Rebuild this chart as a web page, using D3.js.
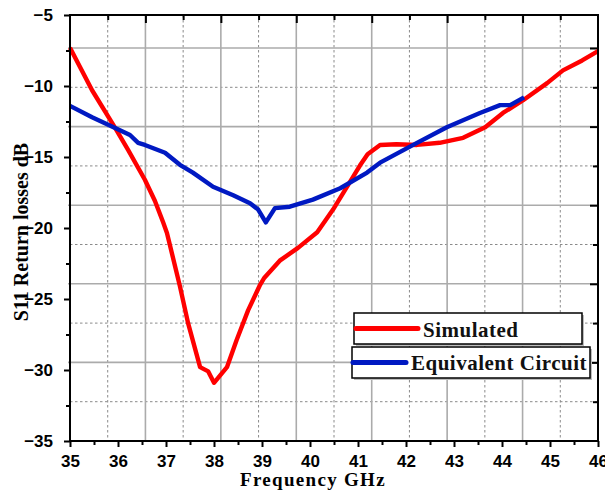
<!DOCTYPE html>
<html><head><meta charset="utf-8">
<script src="https://cdn.jsdelivr.net/npm/d3@7/dist/d3.min.js"></script>
<style>
body{margin:0;background:#fff;}
svg{display:block;}
.tick text{font-family:"Liberation Sans",Arial,sans-serif;font-weight:bold;font-size:17px;fill:#000;}
</style></head>
<body>
<script>
// ---- data ----
const simFreq = [35, 35.46, 35.94, 36.21, 36.56, 36.77, 36.94, 37.02, 37.29, 37.46, 37.71, 37.88, 38.0, 38.27, 38.47, 38.71, 38.96, 39.05, 39.37, 39.75, 40.15, 40.48, 40.77, 41.04, 41.2, 41.46, 41.8, 42.23, 42.7, 43.19, 43.65, 44.02, 44.44, 44.94, 45.27, 45.67, 46.0];
const simVal  = [-7.3, -10.3, -12.95, -14.5, -16.6, -18.1, -19.6, -20.35, -24.1, -26.7, -29.8, -30.1, -30.9, -29.8, -27.9, -25.8, -24.0, -23.5, -22.3, -21.4, -20.3, -18.7, -17.1, -15.6, -14.8, -14.15, -14.1, -14.15, -14.0, -13.65, -12.9, -11.9, -11.0, -9.8, -8.9, -8.2, -7.55];
const eqFreq = [35, 35.46, 35.94, 36.25, 36.42, 36.56, 36.98, 37.29, 37.56, 37.98, 38.4, 38.75, 38.92, 39.08, 39.27, 39.58, 40.06, 40.63, 41.19, 41.46, 42.15, 42.85, 43.54, 43.96, 44.17, 44.46];
const eqVal  = [-11.4, -12.2, -12.95, -13.45, -14.0, -14.15, -14.7, -15.55, -16.1, -17.1, -17.7, -18.25, -18.7, -19.6, -18.6, -18.5, -18.0, -17.2, -16.1, -15.4, -14.15, -12.9, -11.9, -11.35, -11.35, -10.8];
const xTicks = [35, 36, 37, 38, 39, 40, 41, 42, 43, 44, 45, 46];
const yTicks = [-5, -10, -15, -20, -25, -30, -35];
const seriesNames = ["Simulated", "Equivalent Circuit"];
const seriesColors = ["#ff0000", "#0019c2"];
const xTitle = "Frequency GHz";
const yTitle = "S11 Return losses dB";

// ---- layout ----
const W = 605, H = 491;
const L = 70, R = 598, T = 15, B = 441;
const svg = d3.select("body").append("svg").attr("width", W).attr("height", H);

const x = d3.scaleLinear().domain([35, 46]).range([L, R]);
const y = d3.scaleLinear().domain([-5, -35]).range([T, B]);
// secondary (top/right) axes that carry the grid
const xTop = d3.scaleLinear().domain([0, 7]).range([L, R]);
const yRight = d3.scaleLinear().domain([0, 5.42]).range([B, T]);

const grid = svg.append("g");
const xMaj = d3.range(1, 7, 1), xMin = d3.range(0.5, 7, 1);
const yMaj = d3.range(1, 6, 1), yMin = d3.range(0.5, 5.42, 1);
grid.selectAll(".vmin").data(xMin).join("line")
  .attr("x1", d => xTop(d)).attr("x2", d => xTop(d)).attr("y1", T).attr("y2", B)
  .attr("stroke", "#8a8a8a").attr("stroke-width", 1).attr("stroke-dasharray", "2.5,2.5");
grid.selectAll(".hmin").data(yMin).join("line")
  .attr("y1", d => yRight(d)).attr("y2", d => yRight(d)).attr("x1", L).attr("x2", R)
  .attr("stroke", "#8a8a8a").attr("stroke-width", 1).attr("stroke-dasharray", "2.5,2.5");
grid.selectAll(".vmaj").data(xMaj).join("line")
  .attr("x1", d => xTop(d)).attr("x2", d => xTop(d)).attr("y1", T).attr("y2", B)
  .attr("stroke", "#ababab").attr("stroke-width", 1.6);
grid.selectAll(".hmaj").data(yMaj).join("line")
  .attr("y1", d => yRight(d)).attr("y2", d => yRight(d)).attr("x1", L - 2).attr("x2", R)
  .attr("stroke", "#ababab").attr("stroke-width", 1.6);

// top & right axes ticks (inward)
const topAx = svg.append("g").attr("transform", `translate(0,${T})`)
  .call(d3.axisBottom(xTop).tickValues(xMaj).tickSize(8).tickFormat(""));
const topAxMin = svg.append("g").attr("transform", `translate(0,${T})`)
  .call(d3.axisBottom(xTop).tickValues(xMin).tickSize(5).tickFormat(""));
const rightAx = svg.append("g").attr("transform", `translate(${R},0)`)
  .call(d3.axisLeft(yRight).tickValues(yMaj).tickSize(8).tickFormat(""));
const rightAxMin = svg.append("g").attr("transform", `translate(${R},0)`)
  .call(d3.axisLeft(yRight).tickValues(yMin).tickSize(5).tickFormat(""));
[topAx, topAxMin, rightAx, rightAxMin].forEach(g => {
  g.select(".domain").remove();
  g.selectAll("line").attr("stroke", "#000").attr("stroke-width", 2);
});

// curves
const line = d3.line().x(d => x(d[0])).y(d => y(d[1])).curve(d3.curveLinear);
const sim = simFreq.map((f, i) => [f, simVal[i]]);
const eq = eqFreq.map((f, i) => [f, eqVal[i]]);
svg.append("path").datum(sim).attr("d", line).attr("fill", "none")
  .attr("stroke", seriesColors[0]).attr("stroke-width", 4.4).attr("stroke-linejoin", "round");
svg.append("path").datum(eq).attr("d", line).attr("fill", "none")
  .attr("stroke", seriesColors[1]).attr("stroke-width", 4.4).attr("stroke-linejoin", "round");

// frame
svg.append("rect").attr("x", L).attr("y", T).attr("width", R - L).attr("height", B - T)
  .attr("fill", "none").attr("stroke", "#000").attr("stroke-width", 2);

// bottom axis
const bx = svg.append("g").attr("transform", `translate(0,${B})`)
  .call(d3.axisBottom(x).tickValues(xTicks).tickSize(6).tickPadding(8).tickFormat(d3.format("d")));
const bxMin = svg.append("g").attr("transform", `translate(0,${B})`)
  .call(d3.axisBottom(x).tickValues(xTicks.slice(0, -1).map(v => v + 0.5)).tickSize(4).tickFormat(""));
// left axis
const ly = svg.append("g").attr("transform", `translate(${L},0)`)
  .call(d3.axisLeft(y).tickValues(yTicks).tickSize(6).tickPadding(11).tickFormat(d3.format("d")));
const lyMin = svg.append("g").attr("transform", `translate(${L},0)`)
  .call(d3.axisLeft(y).tickValues(yTicks.slice(0, -1).map(v => v - 2.5)).tickSize(4).tickFormat(""));
[bx, bxMin, ly, lyMin].forEach(g => {
  g.select(".domain").remove();
  g.selectAll("line").attr("stroke", "#000").attr("stroke-width", 2);
});

// axis titles
svg.append("text").attr("x", 313).attr("y", 486).attr("text-anchor", "middle")
  .style("font-family", "'Liberation Serif','Times New Roman',serif").style("font-weight", "bold")
  .style("font-size", "19px").style("letter-spacing", "1.3px").text(xTitle);
svg.append("text").attr("transform", "translate(28,232) rotate(-90)").attr("text-anchor", "middle")
  .style("font-family", "'Liberation Serif','Times New Roman',serif").style("font-weight", "bold")
  .style("font-size", "20px").text(yTitle);

// legend (two separate boxes)
const legBoxes = [
  {x0: 354, y0: 313, w: 228, h: 31, lx0: 356, lx1: 418, tx: 423, ty: 337},
  {x0: 352, y0: 347, w: 238, h: 31, lx0: 353, lx1: 406, tx: 411, ty: 370}
];
seriesNames.forEach((name, i) => {
  const b = legBoxes[i];
  svg.append("rect").attr("x", b.x0 + 2).attr("y", b.y0 + 2).attr("width", b.w).attr("height", b.h)
    .attr("fill", "#bdbdbd");
  svg.append("rect").attr("x", b.x0).attr("y", b.y0).attr("width", b.w).attr("height", b.h)
    .attr("fill", "#fff").attr("stroke", "#000").attr("stroke-width", 1.5);
  svg.append("line").attr("x1", b.lx0).attr("x2", b.lx1).attr("y1", b.y0 + b.h / 2).attr("y2", b.y0 + b.h / 2)
    .attr("stroke", seriesColors[i]).attr("stroke-width", 5).attr("stroke-linecap", "round");
  svg.append("text").attr("x", b.tx).attr("y", b.ty)
    .style("font-family", "'Liberation Serif','Times New Roman',serif").style("font-weight", "bold")
    .style("font-size", "21px").style("letter-spacing", "0.5px").attr("fill", "#111").text(name);
});
</script>
</body></html>
